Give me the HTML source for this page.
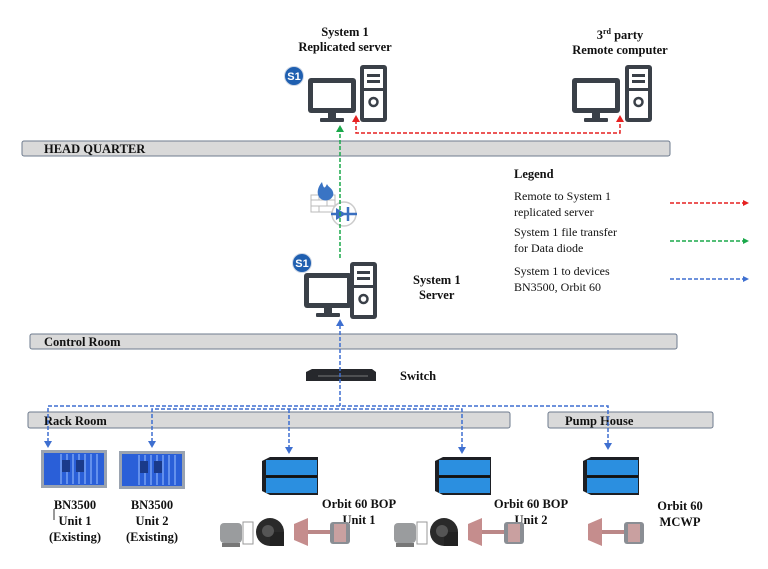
<!DOCTYPE html>
<html><head><meta charset="utf-8"><style>
html,body{margin:0;padding:0;background:#fff;}
svg{display:block;font-family:"Liberation Serif",serif;}
.b{font-weight:bold;font-size:12.5px;fill:#111;}
.n{font-size:12px;fill:#111;}
</style></head><body>
<svg width="768" height="569" viewBox="0 0 768 569" xmlns="http://www.w3.org/2000/svg">
<defs>
<g id="mon"><rect x="0" y="0" width="48" height="35" rx="3" fill="#3a4048"/><rect x="5" y="5" width="38" height="25" fill="#fff"/><rect x="20" y="35" width="8" height="6" fill="#3a4048"/><rect x="12" y="40" width="24" height="4" rx="1" fill="#3a4048"/></g>
<g id="tow"><rect x="0" y="0" width="27" height="57" rx="3" fill="#3a4048"/><rect x="4" y="4" width="19" height="49" fill="#fff"/><rect x="7" y="9" width="13" height="3" fill="#3a4048"/><rect x="7" y="15" width="13" height="3" fill="#3a4048"/><rect x="4" y="23" width="19" height="3" fill="#3a4048"/><circle cx="13.5" cy="37" r="4" fill="none" stroke="#3a4048" stroke-width="2.5"/></g>
<g id="s1"><circle cx="0" cy="0" r="9.5" fill="#1f5fb0" stroke="#cfd8e6" stroke-width="1"/><text x="0" y="4" text-anchor="middle" font-family="Liberation Sans,sans-serif" font-weight="bold" font-size="11" fill="#fff">S1</text></g>
<g id="rack"><rect x="0" y="0" width="66" height="38" fill="#9aa3b0"/><rect x="3" y="3" width="60" height="32" fill="#2a5fd8"/><g stroke="#9cc0ff" stroke-width="1"><line x1="20" y1="4" x2="20" y2="34"/><line x1="26" y1="4" x2="26" y2="34"/><line x1="32" y1="4" x2="32" y2="34"/><line x1="38" y1="4" x2="38" y2="34"/><line x1="44" y1="4" x2="44" y2="34"/><line x1="50" y1="4" x2="50" y2="34"/><line x1="56" y1="4" x2="56" y2="34"/></g><rect x="21" y="10" width="8" height="12" fill="#1a3a8a"/><rect x="35" y="10" width="8" height="12" fill="#1a3a8a"/></g>
<g id="orb"><polygon points="0,4 8,0 56,0 56,38 8,38 0,34" fill="#1d1f24"/><rect x="4" y="3" width="51" height="15" fill="#2b8fe0"/><rect x="4" y="21" width="51" height="15" fill="#2b8fe0"/><line x1="4" y1="19.5" x2="55" y2="19.5" stroke="#111" stroke-width="2"/></g>
<g id="mot"><rect x="0" y="4" width="22" height="20" rx="4" fill="#9a9c9e"/><rect x="2" y="24" width="18" height="4" fill="#777"/><rect x="23" y="3" width="10" height="22" fill="none" stroke="#999" stroke-width="1"/></g>
<g id="fan"><circle cx="14" cy="14" r="14" fill="#2a2a2a"/><rect x="14" y="14" width="14" height="14" fill="#222"/><circle cx="12" cy="13" r="6" fill="#555"/></g>
<g id="pump"><polygon points="0,6 14,0 14,28 0,22" fill="#c58d8d"/><rect x="14" y="12" width="22" height="4" fill="#b88"/><rect x="36" y="4" width="20" height="22" rx="3" fill="#8a8e94"/><rect x="40" y="6" width="12" height="18" fill="#c9a0a0"/></g>
</defs>

<text class="b" x="345" y="36" text-anchor="middle">System 1</text>
<text class="b" x="345" y="51" text-anchor="middle">Replicated server</text>
<text class="b" x="620" y="39" text-anchor="middle">3<tspan font-size="8" dy="-5">rd</tspan><tspan dy="5"> party</tspan></text>
<text class="b" x="620" y="54" text-anchor="middle">Remote computer</text>

<use href="#mon" x="308" y="78"/><use href="#tow" x="360" y="65"/><use href="#s1" x="294" y="76"/>
<use href="#mon" x="572" y="78"/><use href="#tow" x="625" y="65"/>
<use href="#mon" x="304" y="273"/><use href="#tow" x="350" y="262"/><use href="#s1" x="302" y="263"/>

<rect x="22" y="141" width="648" height="15" rx="2" fill="#d9d9d9" stroke="#6e7b8e"/>
<text class="b" x="44" y="153" font-size="12">HEAD QUARTER</text>
<rect x="30" y="334" width="647" height="15" rx="2" fill="#d9d9d9" stroke="#6e7b8e"/>
<text class="b" x="44" y="346">Control Room</text>
<rect x="28" y="412" width="482" height="16" rx="2" fill="#d9d9d9" stroke="#6e7b8e"/>
<text class="b" x="44" y="425">Rack Room</text>
<rect x="548" y="412" width="165" height="16" rx="2" fill="#d9d9d9" stroke="#6e7b8e"/>
<text class="b" x="565" y="425">Pump House</text>

<polyline points="356,120 356,133 620,133 620,120" fill="none" stroke="#e52020" stroke-width="1.5" stroke-dasharray="4,2"/>
<polygon points="352,122 356,115 360,122" fill="#e52020"/><polygon points="616,122 620,115 624,122" fill="#e52020"/>

<g stroke="#bbb" stroke-width="1" fill="none"><rect x="311" y="195" width="24" height="17"/><line x1="311" y1="200" x2="335" y2="200"/><line x1="311" y1="206" x2="335" y2="206"/><line x1="319" y1="195" x2="319" y2="200"/><line x1="327" y1="200" x2="327" y2="206"/><line x1="319" y1="206" x2="319" y2="212"/></g>
<path d="M322,182 C317,188 316,195 321,199 C327,203 335,198 333,192 C332,188 328,187 327,184 C325,188 324,190 322,182Z" fill="#3a74c4"/>
<circle cx="344" cy="214" r="12" fill="#fff" stroke="#ccc" stroke-width="1.5"/>
<line x1="331" y1="214" x2="357" y2="214" stroke="#3a6fc0" stroke-width="2.5"/>
<polygon points="336,208 346,214 336,220" fill="#3a6fc0"/><line x1="348" y1="207" x2="348" y2="221" stroke="#3a6fc0" stroke-width="2.5"/>

<line x1="340" y1="258" x2="340" y2="130" stroke="#1aa84a" stroke-width="1.5" stroke-dasharray="4,2"/>
<polygon points="336,132 340,125 344,132" fill="#1aa84a"/>

<text class="b" x="413" y="284">System 1</text>
<text class="b" x="419" y="299">Server</text>

<polygon points="306,372 312,369 372,369 376,372 376,381 306,381" fill="#26282c"/>
<line x1="318" y1="376" x2="368" y2="376" stroke="#777" stroke-width="1"/>
<text class="b" x="400" y="380">Switch</text>

<g stroke="#3e6fd0" stroke-width="1.5" stroke-dasharray="4,2" fill="none">
<line x1="340" y1="325" x2="340" y2="406"/>
<polyline points="48,442 48,406 608,406 608,444"/>
<polyline points="152,442 152,409 462,409 462,448"/>
<line x1="289" y1="409" x2="289" y2="448"/>
</g>
<g fill="#3e6fd0">
<polygon points="336,326 340,319 344,326"/>
<polygon points="44,441 48,448 52,441"/><polygon points="148,441 152,448 156,441"/>
<polygon points="285,447 289,454 293,447"/><polygon points="458,447 462,454 466,447"/><polygon points="604,443 608,450 612,443"/>
</g>

<text class="b" x="514" y="178">Legend</text>
<text class="n" x="514" y="200">Remote to System 1</text>
<text class="n" x="514" y="216">replicated server</text>
<text class="n" x="514" y="236">System 1 file transfer</text>
<text class="n" x="514" y="252">for Data diode</text>
<text class="n" x="514" y="275">System 1 to devices</text>
<text class="n" x="514" y="291">BN3500, Orbit 60</text>
<line x1="670" y1="203" x2="744" y2="203" stroke="#e52020" stroke-width="1.5" stroke-dasharray="4,2"/><polygon points="743,200 749,203 743,206" fill="#e52020"/>
<line x1="670" y1="241" x2="744" y2="241" stroke="#1aa84a" stroke-width="1.5" stroke-dasharray="4,2"/><polygon points="743,238 749,241 743,244" fill="#1aa84a"/>
<line x1="670" y1="279" x2="744" y2="279" stroke="#3e6fd0" stroke-width="1.5" stroke-dasharray="4,2"/><polygon points="743,276 749,279 743,282" fill="#3e6fd0"/>

<use href="#rack" x="41" y="450"/><use href="#rack" x="119" y="451"/>
<use href="#orb" x="262" y="457"/><use href="#orb" x="435" y="457"/><use href="#orb" x="583" y="457"/>

<text class="b" x="75" y="509" text-anchor="middle">BN3500</text>
<text class="b" x="75" y="525" text-anchor="middle">Unit 1</text>
<text class="b" x="75" y="541" text-anchor="middle">(Existing)</text>
<line x1="54" y1="509" x2="54" y2="520" stroke="#333" stroke-width="1"/>
<text class="b" x="152" y="509" text-anchor="middle">BN3500</text>
<text class="b" x="152" y="525" text-anchor="middle">Unit 2</text>
<text class="b" x="152" y="541" text-anchor="middle">(Existing)</text>
<text class="b" x="359" y="508" text-anchor="middle">Orbit 60 BOP</text>
<text class="b" x="359" y="524" text-anchor="middle">Unit 1</text>
<text class="b" x="531" y="508" text-anchor="middle">Orbit 60 BOP</text>
<text class="b" x="531" y="524" text-anchor="middle">Unit 2</text>
<text class="b" x="680" y="510" text-anchor="middle">Orbit 60</text>
<text class="b" x="680" y="526" text-anchor="middle">MCWP</text>

<use href="#mot" x="220" y="519"/><use href="#fan" x="256" y="518"/><use href="#pump" x="294" y="518"/>
<use href="#mot" x="394" y="519"/><use href="#fan" x="430" y="518"/><use href="#pump" x="468" y="518"/>
<use href="#pump" x="588" y="518"/>
</svg>
</body></html>
